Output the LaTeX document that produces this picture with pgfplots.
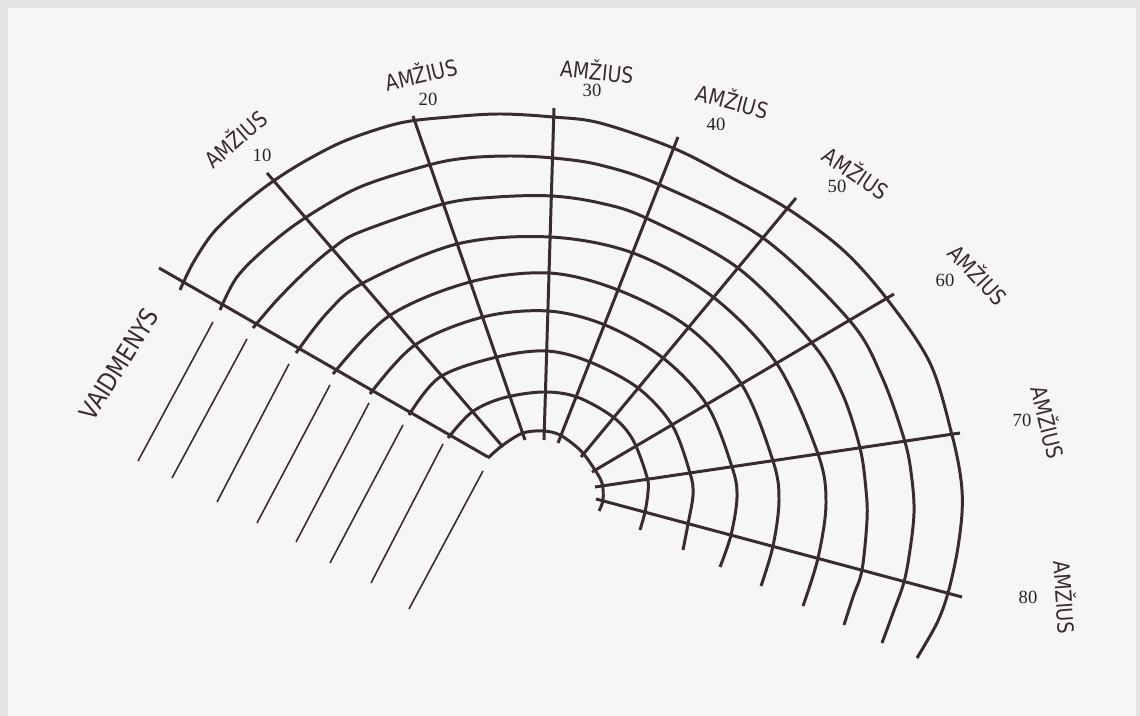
\documentclass[border=0pt]{standalone}
\usepackage{pgfplots}
\pgfplotsset{compat=1.18}
\usepackage{fontspec}
\setmainfont{Liberation Serif}
\newfontfamily\hand{DejaVu Sans}[FakeStretch=0.85]
\definecolor{ink}{RGB}{58,42,50}
\definecolor{page}{RGB}{246,246,248}
\definecolor{edge}{RGB}{228,228,228}
\begin{document}
\begin{tikzpicture}
\begin{axis}[width=11.4cm, height=7.16cm, scale only axis,
  xmin=0, xmax=1140, ymin=0, ymax=716, y dir=reverse,
  axis lines=none, clip=false,
  arc/.style={ink, line width=0.85pt, smooth, tension=0.55, no markers},
  spoke/.style={ink, line width=0.85pt, no markers},
  hatch/.style={ink, line width=0.45pt, no markers}]
\fill[edge] (axis cs:0,0) rectangle (axis cs:1140,716);
\fill[page] (axis cs:8,8) rectangle (axis cs:1136,716);
% arcs (outer to inner)
\addplot[arc] coordinates {(180,290) (193,263) (213,233) (240,207) (272,182) (307,160) (347,140) (400,123) (450,117) (500,114) (553,117) (600,123) (673,148) (730,177) (788,209) (843,250) (887,299) (930,363) (952,435) (961,480) (962,513) (957,553) (948,593) (937,623) (917,658)};
\addplot[arc] coordinates {(220,310) (237,277) (267,247) (305,218) (360,187) (429,165) (467,158) (510,156) (553,158) (600,165) (660,185) (763,238) (850,321) (882,377) (905,442) (912,480) (914,513) (910,550) (904,582) (893,613) (882,643)};
\addplot[arc] coordinates {(253,328) (277,300) (307,270) (333,248) (360,232) (443,204) (497,197) (552,196) (600,203) (646,218) (738,268) (812,343) (842,393) (860,448) (866,490) (867,520) (862,570) (853,597) (844,625)};
\addplot[arc] coordinates {(296,353) (327,313) (363,283) (457,244) (550,237) (633,253) (713,297) (777,364) (818,454) (826,503) (818,558) (803,606)};
\addplot[arc] coordinates {(333,374) (389,316) (470,282) (549,273) (618,290) (688,327) (742,385) (773,461) (779,500) (773,546) (761,586)};
\addplot[arc] coordinates {(370,394) (415,345) (483,317) (548,311) (605,325) (663,358) (707,405) (732,467) (737,497) (731,535) (720,567)};
\addplot[arc] coordinates {(409,415) (440,377) (497,357) (547,351) (590,362) (638,388) (672,425) (690,473) (693,495) (688,524) (683,550)};
\addplot[arc] coordinates {(448,438) (472,412) (503,398) (543,392) (577,397) (613,417) (633,440) (647,477) (648,492) (645,512) (640,530)};
\addplot[arc] coordinates {(488,458) (503,445) (523,433) (543,431) (560,435) (580,450) (593,467) (602,483) (603,500) (599,511)};
% spokes
\addplot[spoke] coordinates {(159,268) (488,457)};
\addplot[spoke] coordinates {(267,173) (503,447)};
\addplot[spoke] coordinates {(413,116) (525,440)};
\addplot[spoke] coordinates {(554,108) (544,440)};
\addplot[spoke] coordinates {(678,137) (558,443)};
\addplot[spoke] coordinates {(796,198) (581,457)};
\addplot[spoke] coordinates {(894,294) (592,472)};
\addplot[spoke] coordinates {(960,433) (595,487)};
\addplot[spoke] coordinates {(962,597) (596,499)};
% hatch lines
\addplot[hatch] coordinates {(213,322) (138,461)};
\addplot[hatch] coordinates {(247,339) (172,478)};
\addplot[hatch] coordinates {(289,364) (217,502)};
\addplot[hatch] coordinates {(330,385) (257,523)};
\addplot[hatch] coordinates {(369,403) (296,542)};
\addplot[hatch] coordinates {(403,425) (330,563)};
\addplot[hatch] coordinates {(443,444) (371,583)};
\addplot[hatch] coordinates {(483,471) (409,609)};
% labels
\tikzset{hl/.style={ink, font=\hand\fontsize{6.3}{7}\selectfont, inner sep=0pt},
         nl/.style={black!85, font=\fontsize{5.3}{6}\selectfont, inner sep=0pt}}
\node[hl, rotate=58, font=\hand\fontsize{7.2}{8}\selectfont] at (axis cs:119,364) {VAIDMENYS};
\node[hl, rotate=41] at (axis cs:235,138) {AMŽIUS};
\node[hl, rotate=13] at (axis cs:421,73) {AMŽIUS};
\node[hl, rotate=-6] at (axis cs:597,70) {AMŽIUS};
\node[hl, rotate=-15] at (axis cs:733,100) {AMŽIUS};
\node[hl, rotate=-34] at (axis cs:857,172) {AMŽIUS};
\node[hl, rotate=-47] at (axis cs:979,274) {AMŽIUS};
\node[hl, rotate=-76] at (axis cs:1049,422) {AMŽIUS};
\node[hl, rotate=-86] at (axis cs:1066,597) {AMŽIUS};
\node[nl] at (axis cs:262,155) {10};
\node[nl] at (axis cs:428,99) {20};
\node[nl] at (axis cs:592,90) {30};
\node[nl] at (axis cs:716,124) {40};
\node[nl] at (axis cs:837,186) {50};
\node[nl] at (axis cs:945,280) {60};
\node[nl] at (axis cs:1022,420) {70};
\node[nl] at (axis cs:1028,597) {80};
\end{axis}
\end{tikzpicture}
\end{document}
